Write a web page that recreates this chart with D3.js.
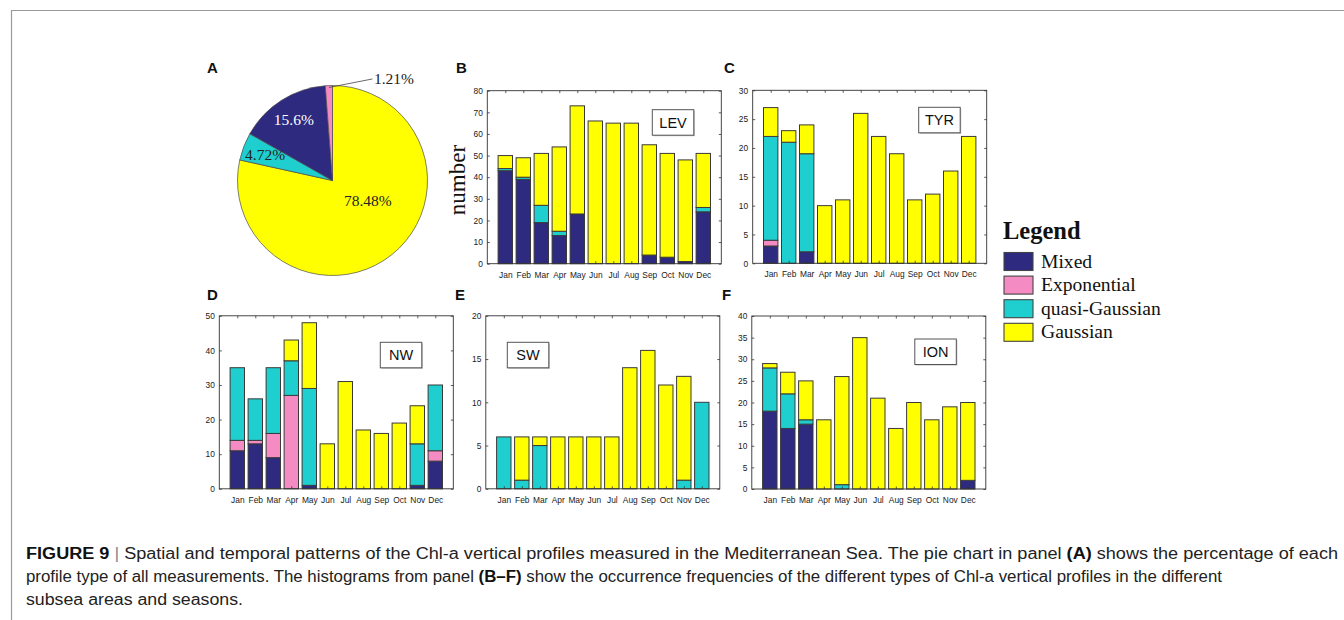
<!DOCTYPE html>
<html>
<head>
<meta charset="utf-8">
<script src="https://cdn.jsdelivr.net/npm/d3@7"></script>
<style>
  html, body { margin: 0; padding: 0; background: #fff; }
  svg { display: block; }
</style>
</head>
<body>
<svg id="fig" width="1344" height="620"></svg>
<script>
// ---- data ----------------------------------------------------------------
const months = ["Jan","Feb","Mar","Apr","May","Jun","Jul","Aug","Sep","Oct","Nov","Dec"];
const profileTypes = ["Mixed","Exponential","quasi-Gaussian","Gaussian"];
const typeColors = ["#2d2a7f","#f48cc3","#1fcfcf","#ffff00"];

// overall share of each profile type (%), pie order clockwise from the top
const pieTypes = ["Gaussian","quasi-Gaussian","Mixed","Exponential"];
const pieShares = [78.48, 4.72, 15.6, 1.21];

// LEV
const levMixed       = [43,39,19,13,23, 0, 0, 0, 4, 3, 1,24];
const levExponential = [ 0, 0, 0, 0, 0, 0, 0, 0, 0, 0, 0, 0];
const levQuasi       = [ 1, 1, 8, 2, 0, 0, 0, 0, 0, 0, 0, 2];
const levGaussian    = [ 6, 9,24,39,50,66,65,65,51,48,47,25];
// TYR
const tyrMixed       = [ 3, 0, 2, 0, 0, 0, 0, 0, 0, 0, 0, 0];
const tyrExponential = [ 1, 0, 0, 0, 0, 0, 0, 0, 0, 0, 0, 0];
const tyrQuasi       = [18,21,17, 0, 0, 0, 0, 0, 0, 0, 0, 0];
const tyrGaussian    = [ 5, 2, 5,10,11,26,22,19,11,12,16,22];
// NW
const nwMixed        = [11,13, 9, 0, 1, 0, 0, 0, 0, 0, 1, 8];
const nwExponential  = [ 3, 1, 7,27, 0, 0, 0, 0, 0, 0, 0, 3];
const nwQuasi        = [21,12,19,10,28, 0, 0, 0, 0, 0,12,19];
const nwGaussian     = [ 0, 0, 0, 6,19,13,31,17,16,19,11, 0];
// SW
const swMixed        = [ 0, 0, 0, 0, 0, 0, 0, 0, 0, 0, 0, 0];
const swExponential  = [ 0, 0, 0, 0, 0, 0, 0, 0, 0, 0, 0, 0];
const swQuasi        = [ 6, 1, 5, 0, 0, 0, 0, 0, 0, 0, 1,10];
const swGaussian     = [ 0, 5, 1, 6, 6, 6, 6,14,16,12,12, 0];
// ION
const ionMixed       = [18,14,15, 0, 0, 0, 0, 0, 0, 0, 0, 2];
const ionExponential = [ 0, 0, 0, 0, 0, 0, 0, 0, 0, 0, 0, 0];
const ionQuasi       = [10, 8, 1, 0, 1, 0, 0, 0, 0, 0, 0, 0];
const ionGaussian    = [ 1, 5, 9,16,25,35,21,14,20,16,19,18];

const yTicksLEV = [0,10,20,30,40,50,60,70,80];
const yTicksTYR = [0,5,10,15,20,25,30];
const yTicksNW  = [0,10,20,30,40,50];
const yTicksSW  = [0,5,10,15,20];
const yTicksION = [0,5,10,15,20,25,30,35,40];

// ---- drawing ---------------------------------------------------------------
const svg = d3.select("#fig");
const sans = "'Liberation Sans', Arial, Helvetica, sans-serif";
const serif = "'Liberation Serif', 'Times New Roman', Times, serif";

// page frame
svg.append("line").attr("x1", 11).attr("x2", 1344).attr("y1", 10.5).attr("y2", 10.5)
  .attr("stroke", "#9a9a9a").attr("stroke-width", 1.2);
svg.append("line").attr("x1", 11.5).attr("x2", 11.5).attr("y1", 10).attr("y2", 620)
  .attr("stroke", "#9a9a9a").attr("stroke-width", 1.2);

function panelLetter(t, x, y) {
  svg.append("text").attr("x", x).attr("y", y).text(t)
    .attr("font-family", sans).attr("font-weight", "bold").attr("font-size", 15).attr("fill", "#111");
}

// ---- panel A: pie ----
(function drawPie() {
  const cx = 332.5, cy = 180.5, r = 95;
  const g = svg.append("g").attr("transform", `translate(${cx},${cy})`);
  const colorOf = t => typeColors[profileTypes.indexOf(t)];
  const pie = d3.pie().sort(null).value(d => d.v);
  const arcs = pie(pieTypes.map((t, i) => ({ t, v: pieShares[i] })));
  const arc = d3.arc().innerRadius(0).outerRadius(r);
  g.selectAll("path.slice").data(arcs).join("path").attr("class", "slice")
    .attr("d", arc).attr("fill", d => colorOf(d.data.t))
    .attr("stroke", "#4a4a4a").attr("stroke-width", 0.7);

  const polar = (ang, rad) => [Math.sin(ang) * rad, -Math.cos(ang) * rad];
  const mid = d => (d.startAngle + d.endAngle) / 2;
  const fmt = v => v + "%";
  arcs.forEach(d => {
    let pos, fill = "#222";
    if (d.data.t === "Gaussian") {
      pos = polar(Math.PI * 2 / 3, 0.43 * r);
    } else if (d.data.t === "Exponential") {
      const p0 = polar(mid(d), 0.98 * r);
      const p1 = [p0[0] + 43.5, p0[1] - 8.5];
      g.append("line").attr("x1", p0[0]).attr("y1", p0[1]).attr("x2", p1[0]).attr("y2", p1[1])
        .attr("stroke", "#444").attr("stroke-width", 0.8);
      g.append("text").attr("x", p1[0] + 1.5).attr("y", p1[1] + 5).text(fmt(d.data.v))
        .attr("font-family", serif).attr("font-size", 15.5).attr("fill", "#222");
      return;
    } else {
      pos = polar(mid(d), 0.76 * r);
      if (d.data.t === "Mixed") fill = "#fff";
    }
    g.append("text").attr("x", pos[0]).attr("y", pos[1] + 5.5).text(fmt(d.data.v))
      .attr("text-anchor", "middle").attr("font-family", serif).attr("font-size", 15.5).attr("fill", fill);
  });
})();
panelLetter("A", 207, 73);

// ---- panels B-F: stacked monthly bars ----
const panels = [
  { letter: "B", area: "LEV", series: [levMixed, levExponential, levQuasi, levGaussian], ticks: yTicksLEV,
    left: 487.3, top: 90.7, lx: 456, ly: 73, box: [165, 19] },
  { letter: "C", area: "TYR", series: [tyrMixed, tyrExponential, tyrQuasi, tyrGaussian], ticks: yTicksTYR,
    left: 752.7, top: 90.3, lx: 724, ly: 73, box: [166, 17] },
  { letter: "D", area: "NW", series: [nwMixed, nwExponential, nwQuasi, nwGaussian], ticks: yTicksNW,
    left: 219.3, top: 315.8, lx: 207, ly: 300, box: [161, 26.5] },
  { letter: "E", area: "SW", series: [swMixed, swExponential, swQuasi, swGaussian], ticks: yTicksSW,
    left: 485.8, top: 315.8, lx: 455, ly: 300, box: [21.5, 26.5] },
  { letter: "F", area: "ION", series: [ionMixed, ionExponential, ionQuasi, ionGaussian], ticks: yTicksION,
    left: 751.8, top: 316, lx: 722, ly: 300, box: [163, 23] }
];
const plotW = 234, plotH = 173;

panels.forEach(p => {
  const g = svg.append("g").attr("transform", `translate(${p.left},${p.top})`);
  const x = d3.scaleLinear().domain([0, 13]).range([0, plotW]);
  const yMax = d3.max(p.ticks);
  const y = d3.scaleLinear().domain([0, yMax]).range([plotH, 0]);

  const rows = months.map((m, i) => {
    const row = { month: m, idx: i + 1 };
    profileTypes.forEach((t, k) => { row[t] = p.series[k][i]; });
    return row;
  });
  const stacked = d3.stack().keys(profileTypes)(rows);

  g.append("rect").attr("width", plotW).attr("height", plotH).attr("fill", "#fff");

  stacked.forEach((layer, k) => {
    g.append("g").selectAll("rect").data(layer.filter(d => d[1] > d[0])).join("rect")
      .attr("x", d => x(d.data.idx - 0.4))
      .attr("width", d => x(d.data.idx + 0.4) - x(d.data.idx - 0.4))
      .attr("y", d => y(d[1]))
      .attr("height", d => y(d[0]) - y(d[1]))
      .attr("fill", typeColors[k])
      .attr("stroke", "#3a3a3a").attr("stroke-width", 1);
  });

  const monthTicks = d3.range(1, 13);
  const styleAxis = sel => {
    sel.select(".domain").remove();
    sel.selectAll(".tick line").attr("stroke", "#333").attr("stroke-width", 0.8);
    sel.selectAll("text").attr("font-family", sans).attr("font-size", 8.4).attr("fill", "#1a1a1a");
  };
  g.append("g").attr("transform", `translate(0,${plotH})`)
    .call(d3.axisBottom(x).tickValues(monthTicks).tickFormat(v => months[v - 1]).tickSize(-2.5).tickPadding(8))
    .call(styleAxis);
  g.append("g")
    .call(d3.axisTop(x).tickValues(monthTicks).tickFormat("").tickSize(-2.5))
    .call(styleAxis);
  g.append("g")
    .call(d3.axisLeft(y).tickValues(p.ticks).tickSize(-2.5).tickPadding(4.5))
    .call(styleAxis);
  g.append("g").attr("transform", `translate(${plotW},0)`)
    .call(d3.axisRight(y).tickValues(p.ticks).tickFormat("").tickSize(-2.5))
    .call(styleAxis);

  g.append("rect").attr("width", plotW).attr("height", plotH)
    .attr("fill", "none").attr("stroke", "#333").attr("stroke-width", 0.9);

  // area name box
  const bx = p.box[0], by = p.box[1], bw = 41.5, bh = 25.5;
  g.append("rect").attr("x", bx + 1).attr("y", by + 1).attr("width", bw).attr("height", bh)
    .attr("fill", "#bbb");
  g.append("rect").attr("x", bx).attr("y", by).attr("width", bw).attr("height", bh)
    .attr("fill", "#fff").attr("stroke", "#555").attr("stroke-width", 1);
  g.append("text").attr("x", bx + bw / 2).attr("y", by + bh / 2 + 5.2).text(p.area)
    .attr("text-anchor", "middle").attr("font-family", sans).attr("font-size", 14.5).attr("fill", "#111");

  panelLetter(p.letter, p.lx, p.ly);
});

// y-axis title of panel B
svg.append("text").attr("transform", "translate(465,180) rotate(-90)")
  .attr("text-anchor", "middle").text("number")
  .attr("font-family", serif).attr("font-size", 23).attr("fill", "#111");

// ---- legend ----
(function drawLegend() {
  const g = svg.append("g").attr("transform", "translate(1003,0)");
  g.append("text").attr("x", 0).attr("y", 239).text("Legend")
    .attr("font-family", serif).attr("font-weight", "bold").attr("font-size", 24.5).attr("fill", "#111");
  profileTypes.forEach((t, i) => {
    const yy = 252.5 + i * 23.6;
    g.append("rect").attr("x", 1).attr("y", yy).attr("width", 29).attr("height", 18)
      .attr("fill", typeColors[i]).attr("stroke", "#444").attr("stroke-width", 1.1);
    g.append("text").attr("x", 38).attr("y", yy + 15).text(t)
      .attr("font-family", serif).attr("font-size", 19.6).attr("fill", "#111");
  });
})();

// ---- caption ----
(function drawCaption() {
  const lines = [
    [["FIGURE 9", true, "#111"], [" | ", false, "#888"], ["Spatial and temporal patterns of the Chl-a vertical profiles measured in the Mediterranean Sea. The pie chart in panel ", false, "#222"], ["(A)", true, "#111"], [" shows the percentage of each", false, "#222"]],
    [["profile type of all measurements. The histograms from panel ", false, "#222"], ["(B–F)", true, "#111"], [" show the occurrence frequencies of the different types of Chl-a vertical profiles in the different", false, "#222"]],
    [["subsea areas and seasons.", false, "#222"]]
  ];
  const lineWidths = [1312, 1196, 217];
  lines.forEach((parts, i) => {
    const t = svg.append("text").attr("x", 26).attr("y", 559 + i * 23)
      .attr("font-family", sans).attr("font-size", 16).attr("xml:space", "preserve")
      .attr("textLength", lineWidths[i]).attr("lengthAdjust", "spacingAndGlyphs");
    parts.forEach(([s, b, c]) => {
      t.append("tspan").text(s).attr("font-weight", b ? "bold" : "normal").attr("fill", c);
    });
  });
})();
</script>
</body>
</html>
